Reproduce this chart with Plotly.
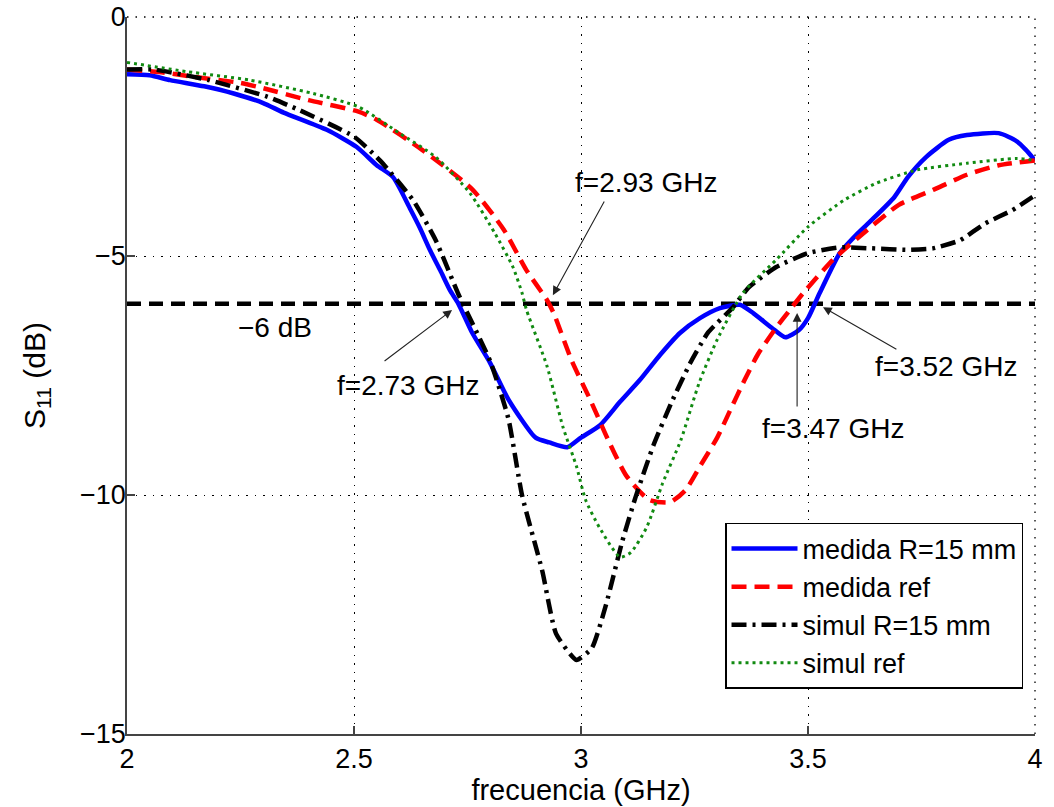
import plotly.graph_objects as go

# ---------------- data ----------------
medida_R15_f = [2.00, 2.05, 2.095, 2.17, 2.235, 2.30, 2.345, 2.44, 2.506, 2.55, 2.586, 2.623, 2.645,
                2.667, 2.69, 2.711, 2.73, 2.76, 2.80, 2.84, 2.90, 2.93, 2.97, 3.00, 3.042, 3.086,
                3.13, 3.174, 3.218, 3.262, 3.306, 3.35, 3.38, 3.42, 3.45, 3.48, 3.50, 3.526, 3.57,
                3.61, 3.64, 3.69, 3.72, 3.76, 3.81, 3.85, 3.92, 3.96, 3.98, 4.00]
medida_R15_s = [-1.20, -1.22, -1.32, -1.45, -1.60, -1.80, -2.00, -2.36, -2.72, -3.10, -3.35, -4.00, -4.41,
                -4.87, -5.30, -5.71, -6.00, -6.60, -7.24, -8.00, -8.80, -8.90, -9.00, -8.80, -8.54, -8.05,
                -7.59, -7.07, -6.61, -6.30, -6.09, -6.02, -6.20, -6.50, -6.70, -6.55, -6.30, -5.77, -4.94,
                -4.52, -4.25, -3.77, -3.35, -2.93, -2.57, -2.47, -2.43, -2.60, -2.78, -3.00]

medida_ref_f = [2.00, 2.07, 2.145, 2.25, 2.30, 2.40, 2.51, 2.55, 2.65, 2.76, 2.83, 2.88, 2.925, 2.94,
                2.98, 3.02, 3.06, 3.10, 3.15, 3.196, 3.23, 3.262, 3.30, 3.33, 3.36, 3.39, 3.43,
                3.46, 3.49, 3.555, 3.63, 3.70, 3.775, 3.85, 3.92, 4.00]
medida_ref_s = [-1.10, -1.15, -1.25, -1.38, -1.49, -1.74, -1.98, -2.15, -2.78, -3.60, -4.45, -5.30, -5.92, -6.20,
                -7.20, -8.00, -8.85, -9.60, -10.10, -10.15, -9.90, -9.40, -8.80, -8.20, -7.60, -7.05, -6.50,
                -6.13, -5.77, -5.08, -4.46, -3.93, -3.62, -3.30, -3.10, -3.00]

simul_R15_f = [2.00, 2.06, 2.18, 2.31, 2.38, 2.50, 2.557, 2.63, 2.68, 2.73, 2.80, 2.84, 2.87, 2.915,
               2.945, 2.99, 3.024, 3.055, 3.09, 3.12, 3.16, 3.20, 3.24, 3.28, 3.335, 3.37, 3.43,
               3.50, 3.57, 3.64, 3.72, 3.775, 3.835, 3.89, 3.95, 4.00]
simul_R15_s = [-1.10, -1.10, -1.32, -1.67, -1.95, -2.50, -3.00, -3.83, -4.67, -5.80, -7.20, -8.40, -10.00, -11.60,
               -12.90, -13.45, -13.20, -12.30, -11.00, -10.05, -8.95, -8.05, -7.25, -6.60, -6.07, -5.65, -5.23,
               -4.94, -4.82, -4.84, -4.87, -4.84, -4.67, -4.32, -4.04, -3.73]

simul_ref_f = [2.00, 2.13, 2.27, 2.41, 2.51, 2.60, 2.68, 2.755, 2.81, 2.85, 2.87, 2.88, 2.925, 2.96,
               2.99, 3.01, 3.04, 3.086, 3.11, 3.145, 3.18, 3.22, 3.26, 3.30, 3.357, 3.43, 3.50,
               3.58, 3.65, 3.74, 3.85, 3.96, 4.00]
simul_ref_s = [-0.95, -1.14, -1.32, -1.60, -1.88, -2.43, -2.93, -3.68, -4.52, -5.23, -5.77, -6.13, -7.30, -8.57,
               -9.40, -10.10, -10.67, -11.30, -11.20, -10.67, -9.75, -8.85, -7.66, -6.75, -5.77, -5.08, -4.39,
               -3.83, -3.48, -3.20, -3.06, -2.96, -3.00]

threshold_f = [2.0, 4.0]
threshold_s = [-6.0, -6.0]

x_ticks = [2, 2.5, 3, 3.5, 4]
x_tick_labels = ["2", "2.5", "3", "3.5", "4"]
y_ticks = [-15, -10, -5, 0]

# annotation texts and arrows
marker_labels = ["f=2.93 GHz", "f=2.73 GHz", "f=3.52 GHz", "f=3.47 GHz"]
label_x = [3.143, 2.619, 3.804, 3.555]
label_y = [-3.47, -7.70, -7.32, -8.60]
head_x = [2.938, 2.716, 3.533, 3.476]
head_y = [-5.82, -6.13, -6.07, -6.19]
tail_x = [3.053, 2.564, 3.698, 3.476]
tail_y = [-3.83, -7.22, -6.97, -8.18]
db_label = "\u22126 dB"
db_label_x, db_label_y = 2.326, -6.49

FONT = "Liberation Sans, Arial, sans-serif"

fig = go.Figure()

fig.add_trace(go.Scatter(x=threshold_f, y=threshold_s, mode="lines", showlegend=False,
                         line=dict(color="black", width=4.5, dash="14px,8px"), hoverinfo="skip"))

fig.add_trace(go.Scatter(x=medida_R15_f, y=medida_R15_s, mode="lines", name="medida R=15 mm",
                         line=dict(color="#0000ff", width=4.5, shape="spline", smoothing=0.6)))
fig.add_trace(go.Scatter(x=medida_ref_f, y=medida_ref_s, mode="lines", name="medida ref",
                         line=dict(color="#ff0000", width=4.5, dash="15px,8px", shape="spline", smoothing=0.6)))
fig.add_trace(go.Scatter(x=simul_R15_f, y=simul_R15_s, mode="lines", name="simul R=15 mm",
                         line=dict(color="black", width=4.5, dash="15px,6px,3px,6px", shape="spline", smoothing=0.5)))
fig.add_trace(go.Scatter(x=simul_ref_f, y=simul_ref_s, mode="lines", name="simul ref",
                         line=dict(color="#118a11", width=3, dash="3px,4px", shape="spline", smoothing=0.6)))

annotations = []
for lab, lx, ly, hx, hy, tx, ty in zip(marker_labels, label_x, label_y, head_x, head_y, tail_x, tail_y):
    annotations.append(dict(x=hx, y=hy, ax=tx, ay=ty, axref="x", ayref="y", xref="x", yref="y",
                            text="", showarrow=True, arrowhead=2, arrowsize=1.6, arrowwidth=1.1,
                            arrowcolor="#222", standoff=0))
    annotations.append(dict(x=lx, y=ly, xref="x", yref="y", text=lab, showarrow=False,
                            font=dict(family=FONT, size=28, color="black")))
annotations.append(dict(x=db_label_x, y=db_label_y, xref="x", yref="y", text=db_label, showarrow=False,
                        font=dict(family=FONT, size=28, color="black")))

grid_dash = "1.5px,7px"
fig.update_layout(
    width=1054, height=807,
    margin=dict(l=127, r=19, t=17, b=73, autoexpand=False),
    paper_bgcolor="white", plot_bgcolor="white",
    font=dict(family=FONT, size=27, color="black"),
    annotations=annotations,
    showlegend=True,
    legend=dict(x=0.6586, y=0.2943, xanchor="left", yanchor="top",
                bgcolor="white", bordercolor="black", borderwidth=1.5,
                font=dict(family=FONT, size=27, color="black"),
                tracegroupgap=0, itemwidth=66),
    shapes=[
        dict(type="line", xref="paper", yref="paper", x0=0, x1=1, y0=1, y1=1,
             line=dict(color="black", width=1.3, dash=grid_dash)),
        dict(type="line", xref="paper", yref="paper", x0=1, x1=1, y0=0, y1=1,
             line=dict(color="black", width=1.3, dash=grid_dash)),
    ],
)
fig.update_xaxes(range=[2, 4], tickvals=x_ticks, ticktext=x_tick_labels,
                 showgrid=True, gridcolor="black", gridwidth=1.3, griddash=grid_dash,
                 showline=True, linecolor="#444", linewidth=1.5, zeroline=False,
                 ticks="inside", ticklen=8, tickwidth=1.5, tickcolor="#444", automargin=False,
                 ticklabeloverflow="allow",
                 tickfont=dict(family=FONT, size=27, color="black"),
                 title=dict(text="frecuencia (GHz)", standoff=6,
                            font=dict(family=FONT, size=29, color="black")))
fig.update_yaxes(range=[-15, 0], tickvals=y_ticks,
                 showgrid=True, gridcolor="black", gridwidth=1.3, griddash=grid_dash,
                 showline=True, linecolor="#444", linewidth=1.5, zeroline=False,
                 ticks="inside", ticklen=8, tickwidth=1.5, tickcolor="#444", automargin=False,
                 ticklabelstandoff=-6, ticklabeloverflow="allow",
                 tickfont=dict(family=FONT, size=27, color="black"),
                 title=dict(text="S<sub>11</sub> (dB)", standoff=26,
                            font=dict(family=FONT, size=30, color="black")))

# remove the default page margin so the figure sits at the window's top-left corner
fig.write_html("out.html", config={"displayModeBar": False},
               post_script="document.body.style.margin='0';")
